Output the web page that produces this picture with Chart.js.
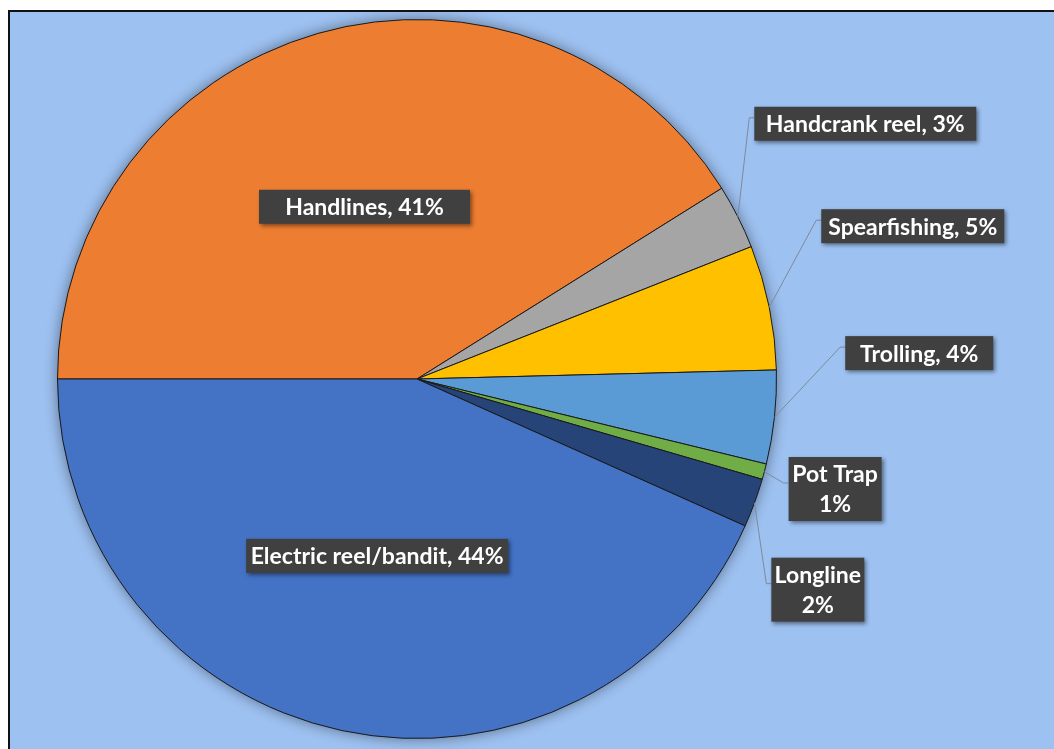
<!DOCTYPE html>
<html>
<head>
<meta charset="utf-8">
<script src="https://cdn.jsdelivr.net/npm/chart.js@4.4.1/dist/chart.umd.min.js"></script>
<style>
    html, body { margin: 0; padding: 0; background: #ffffff; }
    .frame {
        position: absolute;
        left: 8px;
        top: 10px;
        width: 1046px;
        height: 739px;
        box-sizing: border-box;
        border-left: 2px solid #111111;
        border-top: 2px solid #111111;
        background: #9dc1f1;
        overflow: hidden;
    }
    .frame div { width: 1044px; height: 737px; }
</style>
</head>
<body>
<div class="frame"><div><canvas id="pie"></canvas></div></div>
<script>
// gear types, clockwise from 9 o'clock
const gearTypes = ["Handlines", "Handcrank reel", "Spearfishing", "Trolling", "Pot Trap", "Longline", "Electric reel/bandit"];
const gearShares = [41.1, 2.9, 5.6, 4.2, 0.7, 2.2, 43.3];
const shareLabels = ["41%", "3%", "5%", "4%", "1%", "2%", "44%"];
const sliceColors = ["#ed7d31", "#a5a5a5", "#ffc000", "#5b9bd5", "#70ad47", "#264478", "#4472c4"];

(() => {
    // label box placement, in units of the pie radius from its centre
    const labelPlaces = [
        { dx: -0.146, dy: -0.479, w: 211, twoLines: false, leader: false },
        { dx: 1.247, dy: -0.710, w: 222, twoLines: false, leader: true },
        { dx: 1.379, dy: -0.425, w: 183, twoLines: false, leader: true },
        { dx: 1.397, dy: -0.072, w: 148, twoLines: false, leader: true },
        { dx: 1.163, dy: 0.306, w: 93, twoLines: true, leader: true },
        { dx: 1.115, dy: 0.586, w: 93, twoLines: true, leader: true },
        { dx: -0.111, dy: 0.492, w: 262, twoLines: false, leader: false }
    ];

    const pieShadow = {
        id: "pieShadow",
        beforeDatasetsDraw(chart) {
            const arc = chart.getDatasetMeta(0).data[0];
            if (!arc) {
                return;
            }
            const { x, y, outerRadius } = arc.getProps(["x", "y", "outerRadius"], true);
            const ctx = chart.ctx;
            ctx.save();
            ctx.shadowColor = "rgba(0,0,0,0.45)";
            ctx.shadowBlur = 14;
            ctx.fillStyle = "#4472c4";
            ctx.beginPath();
            ctx.arc(x, y, outerRadius, 0, Math.PI * 2);
            ctx.fill();
            ctx.restore();
        }
    };

    const sliceLabels = {
        id: "sliceLabels",
        afterDatasetsDraw(chart) {
            const ctx = chart.ctx;
            const meta = chart.getDatasetMeta(0);
            meta.data.forEach((arc, i) => {
                const p = arc.getProps(["x", "y", "startAngle", "endAngle", "outerRadius"], true);
                const r = p.outerRadius;
                const place = labelPlaces[i];
                const cx = p.x + place.dx * r;
                const cy = p.y + place.dy * r;
                const h = place.twoLines ? 64 : 34;
                const left = cx - place.w / 2;
                const top = cy - h / 2;

                if (place.leader) {
                    const mid = (p.startAngle + p.endAngle) / 2;
                    const ex = p.x + Math.cos(mid) * r;
                    const ey = p.y + Math.sin(mid) * r;
                    const ly = cy - 6;
                    ctx.save();
                    ctx.strokeStyle = "#7f8a99";
                    ctx.lineWidth = 1;
                    ctx.beginPath();
                    ctx.moveTo(ex, ey);
                    ctx.lineTo(left - 5, ly);
                    ctx.lineTo(left, ly);
                    ctx.stroke();
                    ctx.restore();
                }

                ctx.save();
                ctx.shadowColor = "rgba(0,0,0,0.45)";
                ctx.shadowBlur = 4;
                ctx.shadowOffsetX = 2;
                ctx.shadowOffsetY = 2;
                ctx.fillStyle = "#404040";
                ctx.fillRect(left, top, place.w, h);
                ctx.restore();

                ctx.save();
                ctx.fillStyle = "#ffffff";
                ctx.font = "bold 23px Lato";
                ctx.textAlign = "center";
                ctx.textBaseline = "middle";
                if (place.twoLines) {
                    ctx.fillText(gearTypes[i], cx, cy - 14);
                    ctx.fillText(shareLabels[i], cx, cy + 16);
                } else {
                    ctx.fillText(`${gearTypes[i]}, ${shareLabels[i]}`, cx, cy + 1);
                }
                ctx.restore();
            });
        }
    };

    new Chart(document.getElementById("pie"), {
        type: "pie",
        data: {
            labels: gearTypes,
            datasets: [
                {
                    data: gearShares,
                    backgroundColor: sliceColors,
                    borderColor: "#1a1a1a",
                    borderWidth: 1
                }
            ]
        },
        options: {
            responsive: true,
            maintainAspectRatio: false,
            animation: false,
            rotation: -90,
            layout: {
                padding: { left: 47, top: 7, right: 277, bottom: 10 }
            },
            plugins: {
                legend: { display: false },
                tooltip: { enabled: false }
            }
        },
        plugins: [pieShadow, sliceLabels]
    });
})();
</script>
</body>
</html>
